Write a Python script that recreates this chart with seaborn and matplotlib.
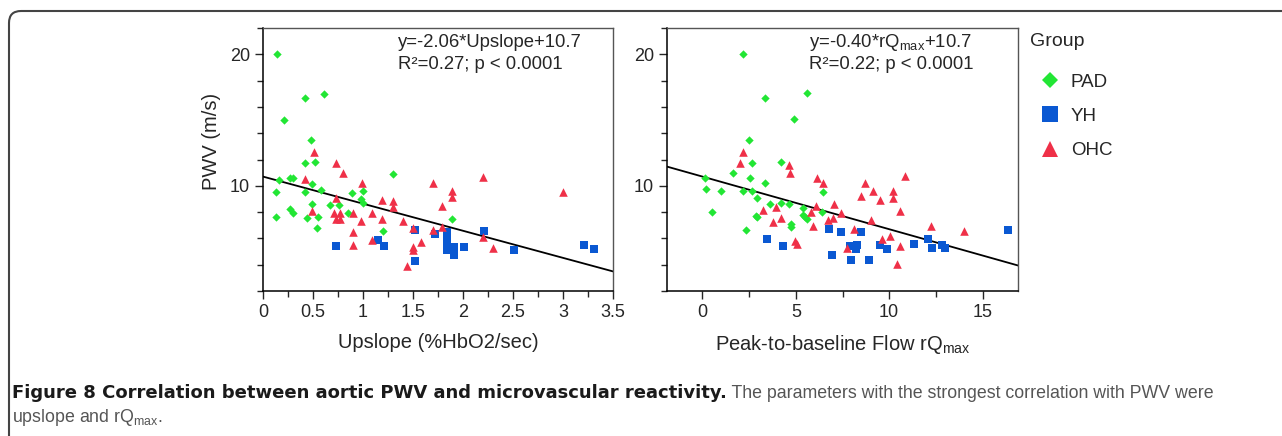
import numpy as np
import pandas as pd
import matplotlib
matplotlib.use('Agg')
import matplotlib.pyplot as plt
import seaborn as sns
from matplotlib.lines import Line2D
from matplotlib.path import Path
from matplotlib.patches import PathPatch
from matplotlib.ticker import MultipleLocator, FuncFormatter
from matplotlib.transforms import IdentityTransform

# Upslope panel (x = upslope %HbO2/sec, y = PWV m/s)
up_pad_x = [0.14, 0.42, 0.61, 0.21, 0.48, 0.42, 0.52, 0.16, 0.27, 0.30, 0.13, 0.42, 0.49, 0.58, 1.30, 0.89,
            1.00, 0.98, 1.00, 0.49, 0.67, 0.76, 0.27, 0.30, 0.13, 0.44, 0.55, 0.85, 0.54, 1.20, 1.89]
up_pad_y = [20.05, 16.7, 17.0, 15.0, 13.5, 11.7, 11.8, 10.46, 10.56, 10.56, 9.54, 9.54, 10.15, 9.69, 10.9, 9.47,
            9.57, 9.0, 8.7, 8.6, 8.57, 8.57, 8.27, 7.9, 7.66, 7.56, 7.66, 7.9, 6.77, 6.56, 7.46]
up_yh_x = [0.73, 1.15, 1.21, 1.52, 1.52, 1.72, 1.84, 1.84, 1.84, 1.84, 1.84, 1.84, 1.91, 1.91, 2.01, 2.21,
           2.51, 3.21, 3.31]
up_yh_y = [5.42, 5.9, 5.42, 6.64, 4.3, 6.36, 6.45, 6.15, 5.85, 5.55, 5.3, 5.1, 5.32, 4.7, 5.32, 6.56,
           5.1, 5.5, 5.2]
up_ohc_x = [0.51, 0.73, 0.80, 0.42, 0.99, 1.70, 2.20, 3.00, 1.89, 1.89, 0.73, 1.19, 1.30, 1.30, 1.79, 0.49,
            0.71, 0.77, 0.90, 1.09, 0.73, 0.77, 1.19, 0.98, 1.40, 1.50, 1.70, 1.79, 2.20, 0.90, 1.09, 0.90,
            1.58, 1.50, 1.50, 1.44, 2.30]
up_ohc_y = [12.6, 11.7, 10.97, 10.5, 10.2, 10.2, 10.7, 9.54, 9.57, 9.18, 9.06, 8.93, 8.85, 8.37, 8.5, 8.1,
            7.96, 7.96, 7.9, 7.96, 7.46, 7.5, 7.5, 7.3, 7.33, 6.82, 6.62, 6.9, 6.08, 6.5, 5.88, 5.5,
            5.75, 5.37, 5.1, 3.92, 5.3]

# rQmax panel (x = peak-to-baseline flow rQmax, y = PWV m/s)
rq_pad_x = [2.19, 3.35, 5.61, 4.90, 2.50, 2.67, 1.66, 0.16, 2.57, 3.35, 0.18, 1.00, 2.19, 2.64, 6.47, 2.94,
            3.60, 4.21, 4.62, 5.37, 0.53, 2.87, 2.90, 4.76, 4.76, 5.37, 5.49, 5.61, 6.40, 2.34, 4.21]
rq_pad_y = [20.05, 16.7, 17.06, 15.06, 13.5, 11.7, 10.96, 10.6, 10.6, 10.18, 9.72, 9.62, 9.62, 9.62, 9.52, 9.06,
            8.63, 8.73, 8.63, 8.3, 7.97, 7.72, 7.6, 7.1, 6.84, 7.77, 7.6, 7.47, 7.97, 6.66, 11.8]
rq_yh_x = [3.44, 4.30, 6.77, 6.92, 7.40, 7.93, 7.90, 8.22, 8.25, 8.47, 8.91, 9.50, 9.91, 11.32, 12.07, 12.32,
           12.82, 12.98, 16.38]
rq_yh_y = [5.97, 5.44, 6.73, 4.76, 6.46, 4.38, 5.39, 5.19, 5.52, 6.51, 4.38, 5.52, 5.19, 5.57, 5.95, 5.29,
           5.49, 5.29, 6.66]
rq_ohc_x = [2.19, 2.01, 4.62, 4.67, 6.15, 6.47, 8.73, 10.84, 9.13, 10.22, 10.22, 8.48, 9.50, 7.02, 6.08, 3.23,
            3.96, 5.79, 7.40, 10.59, 3.76, 4.21, 6.74, 6.97, 5.92, 9.02, 8.11, 12.23, 14.01, 9.63, 10.05, 4.97,
            5.06, 7.72, 10.59, 10.43]
rq_ohc_y = [12.6, 11.77, 11.57, 11.0, 10.58, 10.25, 10.25, 10.78, 9.6, 9.6, 9.11, 9.24, 8.9, 8.58, 8.48, 8.15,
            8.35, 8.03, 7.92, 8.05, 7.27, 7.57, 7.39, 7.52, 6.96, 7.37, 6.71, 6.96, 6.58, 5.95, 6.15, 5.8,
            5.57, 5.24, 5.44, 4.05]

# printed regression equations
fit_slope = [-2.06, -0.40]
fit_intercept = [10.7, 10.7]

groups = ['PAD', 'YH', 'OHC']
palette = {'PAD': '#22e634', 'YH': '#0a58d2', 'OHC': '#ef3048'}
markers = {'PAD': 'D', 'YH': 's', 'OHC': '^'}
sizes = {'PAD': 18, 'YH': 34, 'OHC': 38}


def make_df(px, py, yx, yy, ox, oy):
    return pd.DataFrame({
        'x': px + yx + ox,
        'y': py + yy + oy,
        'group': ['PAD'] * len(px) + ['YH'] * len(yx) + ['OHC'] * len(ox),
    })


df_up = make_df(up_pad_x, up_pad_y, up_yh_x, up_yh_y, up_ohc_x, up_ohc_y)
df_rq = make_df(rq_pad_x, rq_pad_y, rq_yh_x, rq_yh_y, rq_ohc_x, rq_ohc_y)

sns.set_style('ticks')
plt.rcParams['font.family'] = ['Liberation Sans', 'DejaVu Sans']
plt.rcParams['mathtext.fontset'] = 'custom'
plt.rcParams['mathtext.rm'] = 'Liberation Sans'
plt.rcParams['mathtext.it'] = 'Liberation Sans:italic'

W, H = 1282, 436
fig = plt.figure(figsize=(W / 100, H / 100), dpi=100)
ax1 = fig.add_axes([263 / W, 1 - 291 / H, 350 / W, 263 / H])
ax2 = fig.add_axes([667 / W, 1 - 291 / H, 351 / W, 263 / H])

panels = [
    (ax1, df_up, (0, 3.5), 0.5, 0.25, 'Upslope (%HbO2/sec)', 'y=-2.06*Upslope+10.7', 'R\u00b2=0.27; p < 0.0001'),
    (ax2, df_rq, (-1.9, 16.9), 5, 2.5, 'Peak-to-baseline Flow rQ$_{\\mathrm{max}}$',
     'y=-0.40*rQ$_{\\mathrm{max}}$+10.7', 'R\u00b2=0.22; p < 0.0001'),
]

for i, (ax, df, xlim, major, minor, xlabel, eq, r2) in enumerate(panels):
    for g in groups:
        sns.scatterplot(data=df[df['group'] == g], x='x', y='y', color=palette[g], marker=markers[g],
                        s=sizes[g], linewidth=0, ax=ax, legend=False, zorder=3)
    xs = np.array(xlim)
    ax.plot(xs, fit_slope[i] * xs + fit_intercept[i], color='black', lw=1.3, zorder=2)
    ax.set_xlim(*xlim)
    ax.set_ylim(2, 22)
    ax.xaxis.set_major_locator(MultipleLocator(major))
    ax.xaxis.set_minor_locator(MultipleLocator(minor))
    ax.yaxis.set_major_locator(MultipleLocator(10))
    ax.yaxis.set_minor_locator(MultipleLocator(2))
    ax.xaxis.set_major_formatter(FuncFormatter(lambda v, p: '%g' % v))
    ax.tick_params(which='major', length=6, width=1, labelsize=13, direction='out')
    ax.tick_params(which='minor', length=4, width=1, direction='out')
    for s in ['left', 'bottom']:
        ax.spines[s].set_color('black')
        ax.spines[s].set_linewidth(1.1)
    for s in ['top', 'right']:
        ax.spines[s].set_color('#555555')
        ax.spines[s].set_linewidth(1)
    ax.set_xlabel(xlabel, fontsize=14.5)
    ax.xaxis.set_label_coords(0.5, -0.16)
    ax.set_ylabel('')
    ax.text(0.385 if i == 0 else 0.405, 0.943, eq, transform=ax.transAxes, fontsize=13.3, va='center')
    ax.text(0.385 if i == 0 else 0.405, 0.86, r2, transform=ax.transAxes, fontsize=13.3, va='center')

ax1.set_ylabel('PWV (m/s)', fontsize=14.5)
ax1.yaxis.set_label_coords(-0.12, 0.567)

# legend
fig.text(1030 / W, 1 - 42 / H, 'Group', fontsize=14, va='center')
handles = [Line2D([], [], linestyle='none', marker=markers['PAD'], color=palette['PAD'], markersize=8.5, mew=0),
           Line2D([], [], linestyle='none', marker=markers['YH'], color=palette['YH'], markersize=11, mew=0),
           Line2D([], [], linestyle='none', marker=markers['OHC'], color=palette['OHC'], markersize=12, mew=0)]
fig.legend(handles, groups, loc='upper left', bbox_to_anchor=(1040.5 / W, 1 - 73.5 / H),
           frameon=False, fontsize=13.5, labelspacing=0.92, handlelength=1.0, handletextpad=0.62,
           borderpad=0, borderaxespad=0)

# caption
cap_y1 = 1 - 393 / H
cap1 = fig.text(12 / W, cap_y1, 'Figure 8 Correlation between aortic PWV and microvascular reactivity.',
                fontsize=13, fontweight='bold', color='#1a1a1a', va='center', family=['DejaVu Sans'])
cap2 = fig.text(0, cap_y1, ' The parameters with the strongest correlation with PWV were', fontsize=12.8,
                color='#555555', va='center')
fig.text(12 / W, 1 - 417 / H, 'upslope and rQ$_{\\mathrm{max}}$.', fontsize=12.8, color='#555555', va='center')

# position the second caption segment right after the bold part
fig.canvas.draw()
bb = cap1.get_window_extent()
cap2.set_position((bb.x1 / W, cap_y1))

# frame around the figure panel
verts = [(9, -10), (9, H - 23), (9, H - 11), (21, H - 11), (W + 10, H - 11)]
codes = [Path.MOVETO, Path.LINETO, Path.CURVE3, Path.CURVE3, Path.LINETO]
fig.add_artist(PathPatch(Path(verts, codes), facecolor='none', edgecolor='#444444', lw=1.5,
                         transform=IdentityTransform()))

fig.savefig('out.png', dpi=100)
